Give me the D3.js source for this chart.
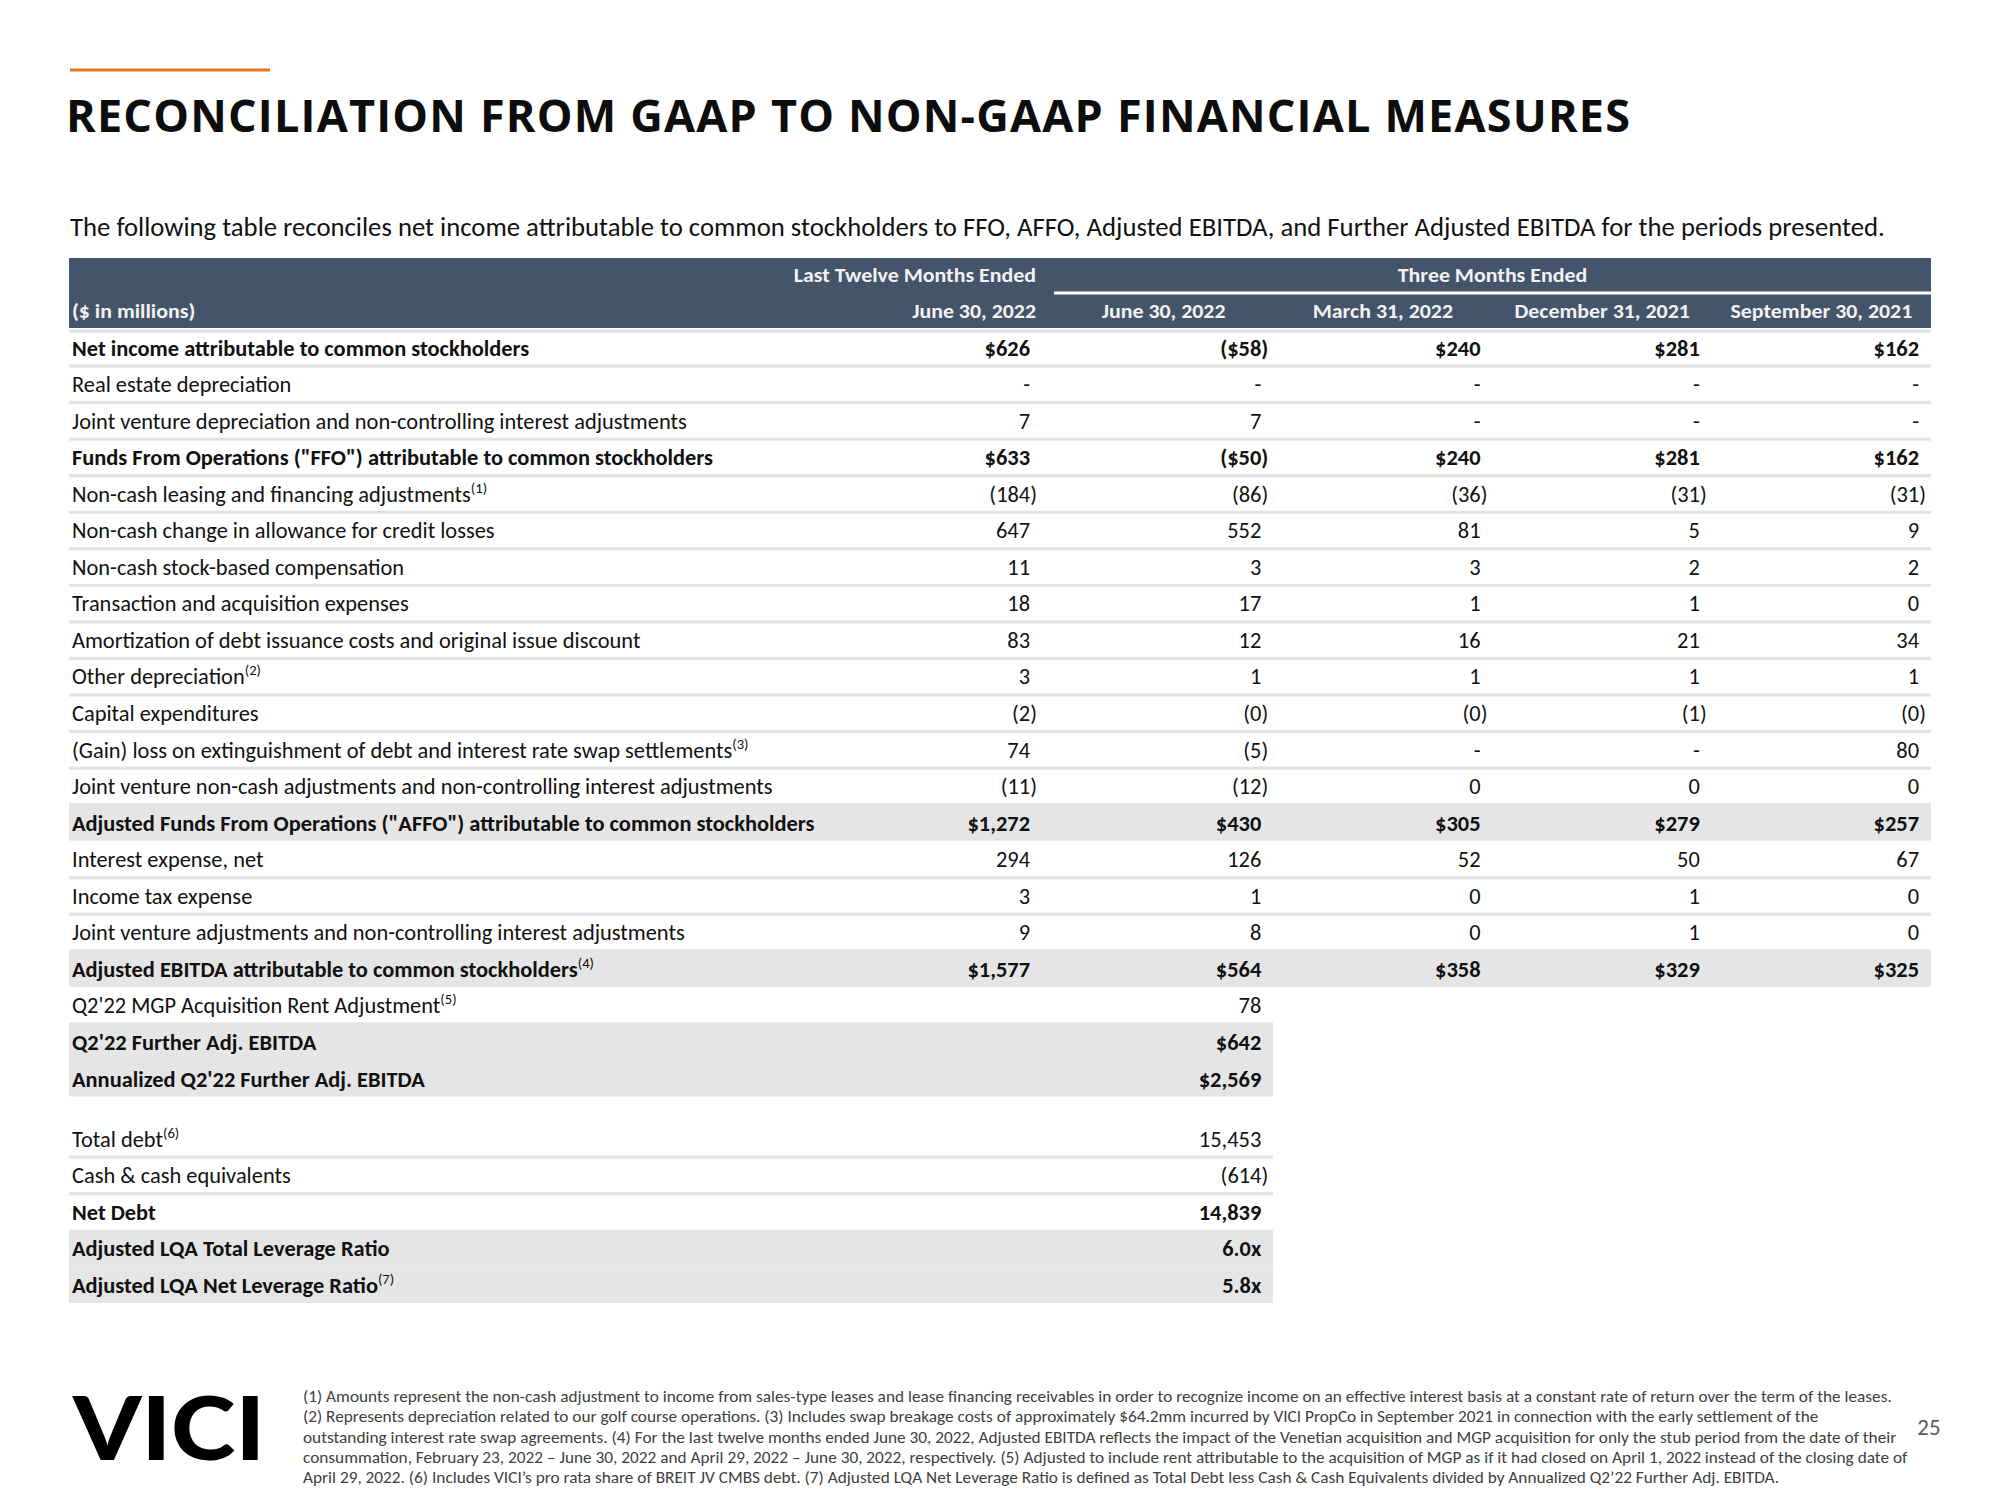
<!DOCTYPE html>
<html>
<head>
<meta charset="utf-8">
<script src="https://cdn.jsdelivr.net/npm/d3@7"></script>
<style>
  html, body { margin: 0; padding: 0; background: #ffffff; }
  svg { display: block; }
</style>
</head>
<body>
<script>
// ---------------- DATA ----------------
const title = "RECONCILIATION FROM GAAP TO NON-GAAP FINANCIAL MEASURES";
const subtitle = "The following table reconciles net income attributable to common stockholders to FFO, AFFO, Adjusted EBITDA, and Further Adjusted EBITDA for the periods presented.";
const unitLabel = "($ in millions)";
const groupHeaders = ["Last Twelve Months Ended", "Three Months Ended"];
const columnHeaders = ["June 30, 2022", "June 30, 2022", "March 31, 2022", "December 31, 2021", "September 30, 2021"];
const columnKeys = ["ltm", "q2_22", "q1_22", "q4_21", "q3_21"];

// Section 1 rows
const labels = [
  "Net income attributable to common stockholders",
  "Real estate depreciation",
  "Joint venture depreciation and non-controlling interest adjustments",
  "Funds From Operations (\"FFO\") attributable to common stockholders",
  "Non-cash leasing and financing adjustments",
  "Non-cash change in allowance for credit losses",
  "Non-cash stock-based compensation",
  "Transaction and acquisition expenses",
  "Amortization of debt issuance costs and original issue discount",
  "Other depreciation",
  "Capital expenditures",
  "(Gain) loss on extinguishment of debt and interest rate swap settlements",
  "Joint venture non-cash adjustments and non-controlling interest adjustments",
  "Adjusted Funds From Operations (\"AFFO\") attributable to common stockholders",
  "Interest expense, net",
  "Income tax expense",
  "Joint venture adjustments and non-controlling interest adjustments",
  "Adjusted EBITDA attributable to common stockholders",
  "Q2'22 MGP Acquisition Rent Adjustment",
  "Q2'22 Further Adj. EBITDA",
  "Annualized Q2'22 Further Adj. EBITDA"
];
const labelNotes = ["", "", "", "", "(1)", "", "", "", "", "(2)", "", "(3)", "", "", "", "", "", "(4)", "(5)", "", ""];
const boldRows = [0, 3, 13, 17, 19, 20];
const dollarRows = [0, 3, 13, 17, 19, 20];
const shadedFullRows = [13, 17];
const shadedShortRows = [19, 20];
// null = dash, undefined = blank
const ltm   = [626, null, 7, 633, -184, 647, 11, 18, 83, 3, -2, 74, -11, 1272, 294, 3, 9, 1577, undefined, undefined, undefined];
const q2_22 = [-58, null, 7, -50, -86, 552, 3, 17, 12, 1, -0, -5, -12, 430, 126, 1, 8, 564, 78, 642, 2569];
const q1_22 = [240, null, null, 240, -36, 81, 3, 1, 16, 1, -0, null, 0, 305, 52, 0, 0, 358, undefined, undefined, undefined];
const q4_21 = [281, null, null, 281, -31, 5, 2, 1, 21, 1, -1, null, 0, 279, 50, 1, 1, 329, undefined, undefined, undefined];
const q3_21 = [162, null, null, 162, -31, 9, 2, 0, 34, 1, -0, 80, 0, 257, 67, 0, 0, 325, undefined, undefined, undefined];

// Section 2 rows (leverage)
const debtLabels = ["Total debt", "Cash & cash equivalents", "Net Debt", "Adjusted LQA Total Leverage Ratio", "Adjusted LQA Net Leverage Ratio"];
const debtNotes = ["(6)", "", "", "", "(7)"];
const debtValues = [15453, -614, 14839, 6.0, 5.8];
const debtTypes = ["num", "num", "num", "x", "x"];
const debtBold = [2, 3, 4];
const debtShaded = [3, 4];

const footnotes = [
  "(1) Amounts represent the non-cash adjustment to income from sales-type leases and lease financing receivables in order to recognize income on an effective interest basis at a constant rate of return over the term of the leases.",
  "(2) Represents depreciation related to our golf course operations. (3) Includes swap breakage costs of approximately $64.2mm incurred by VICI PropCo in September 2021 in connection with the early settlement of the",
  "outstanding interest rate swap agreements. (4) For the last twelve months ended June 30, 2022, Adjusted EBITDA reflects the impact of the Venetian acquisition and MGP acquisition for only the stub period from the date of their",
  "consummation, February 23, 2022 \u2013 June 30, 2022 and April 29, 2022 \u2013 June 30, 2022, respectively. (5) Adjusted to include rent attributable to the acquisition of MGP as if it had closed on April 1, 2022 instead of the closing date of",
  "April 29, 2022. (6) Includes VICI\u2019s pro rata share of BREIT JV CMBS debt. (7) Adjusted LQA Net Leverage Ratio is defined as Total Debt less Cash & Cash Equivalents divided by Annualized Q2\u201922 Further Adj. EBITDA."
];
const logoText = "VICI";
const pageNumber = "25";

// ---------------- STYLE / LAYOUT ----------------
const W = 2000, H = 1500;
const BODY = "Carlito, Calibri, 'Liberation Sans Narrow', 'Liberation Sans', Arial, sans-serif";
const TITLE_FONT = "'Open Sans', 'Noto Sans', sans-serif";
const HEADER_BG = "#44546a";
const SHADE = "#e5e5e5";
const RULE = "#e2e2e2";
const TEXT = "#111111";

const svg = d3.select("body").append("svg").attr("width", W).attr("height", H)
  .style("font-family", BODY);

function measure(str, size, weight, family) {
  const t = svg.append("text").attr("x", -5000).attr("y", -5000)
    .style("font-family", family).style("font-size", size + "px").style("font-weight", weight).text(str);
  const w = t.node().getComputedTextLength();
  t.remove();
  return w;
}

// calibration: horizontal scale so that the body font matches the reference widths
const BODY_SIZE = 21.5;
const kBody = 615 / measure(labels[2], BODY_SIZE, 400, BODY);

function addText(parent, x, y, str, o = {}) {
  const k = o.k == null ? kBody : o.k;
  const t = parent.append("text")
    .attr("transform", `translate(${x},${y}) scale(${k},1)`)
    .attr("text-anchor", o.anchor || "start")
    .style("font-family", o.family || BODY)
    .style("font-size", (o.size || BODY_SIZE) + "px")
    .style("font-weight", o.weight || 400)
    .style("fill", o.fill || TEXT);
  t.append("tspan").text(str);
  if (o.note) {
    t.append("tspan").attr("dy", -9).style("font-size", "14px").style("font-weight", 400).text(o.note);
  }
  return t;
}

// ---- Orange accent + title ----
svg.append("rect").attr("x", 70).attr("y", 68.5).attr("width", 200).attr("height", 3).attr("fill", "#e87722");

const titleNat = measure(title, 45, 700, TITLE_FONT);
const titleLS = (1564 - titleNat) / (title.length - 1);
svg.append("text").attr("x", 66).attr("y", 132)
  .style("font-family", TITLE_FONT).style("font-weight", 700).style("font-size", "45px")
  .style("letter-spacing", titleLS + "px").style("fill", "#0d0d0d").text(title);

// subtitle
const subK = 1815 / measure(subtitle, 27.5, 400, BODY);
addText(svg, 70, 236, subtitle, { size: 27.5, k: subK, fill: "#111" });

// ---- Scales ----
const tableLeft = 69, tableRight = 1931, shortRight = 1273;
const yRows = d3.scaleBand().domain(d3.range(labels.length)).range([329, 329 + 36.55 * labels.length]).paddingInner(0).paddingOuter(0);
const yDebt = d3.scaleBand().domain(d3.range(debtLabels.length)).range([1120, 1303]);
const xQuarter = d3.scaleBand().domain(columnKeys.slice(1)).range([1054, tableRight]);
const colRight = d3.scaleOrdinal().domain(columnKeys)
  .range([1037].concat(columnKeys.slice(1).map(c => xQuarter(c) + xQuarter.bandwidth() - 5)));
const colCenter = c => xQuarter(c) + xQuarter.bandwidth() / 2;
const seriesByKey = { ltm, q2_22, q1_22, q4_21, q3_21 };

// ---- Header ----
svg.append("rect").attr("x", tableLeft).attr("y", 258).attr("width", tableRight - tableLeft).attr("height", 70).attr("fill", HEADER_BG);
svg.append("rect").attr("x", 1054).attr("y", 291.5).attr("width", tableRight - 1054).attr("height", 3).attr("fill", "#ffffff");
svg.append("rect").attr("x", tableLeft).attr("y", 329.5).attr("width", tableRight - tableLeft).attr("height", 3).attr("fill", RULE);

const HDR = { size: 21, weight: 700, fill: "#f2f2f2" };
addText(svg, 1036, 282, groupHeaders[0], { ...HDR, anchor: "end" });
addText(svg, (1054 + tableRight) / 2, 282, groupHeaders[1], { ...HDR, anchor: "middle" });
addText(svg, 72, 318, unitLabel, { ...HDR });
addText(svg, 1036, 318, columnHeaders[0], { ...HDR, anchor: "end" });
columnKeys.slice(1).forEach((c, i) => addText(svg, colCenter(c), 318, columnHeaders[i + 1], { ...HDR, anchor: "middle" }));

// ---- Formatting ----
const fmtInt = d3.format(",");
function fmtValue(v, dollar, type) {
  if (v === null) return { s: "-", neg: false };
  const neg = v < 0 || Object.is(v, -0);
  let s = type === "x" ? d3.format(".1f")(Math.abs(v)) + "x" : fmtInt(Math.abs(v));
  if (dollar) s = "$" + s;
  if (neg) s = "(" + s + ")";
  return { s, neg };
}

// ---- Section 1 rows ----
const gRows = svg.append("g");
labels.forEach((lab, i) => {
  const top = yRows(i), bh = yRows.bandwidth();
  if (shadedFullRows.includes(i)) {
    gRows.append("rect").attr("x", tableLeft).attr("y", top).attr("width", tableRight - tableLeft).attr("height", bh).attr("fill", SHADE);
  } else if (shadedShortRows.includes(i)) {
    gRows.append("rect").attr("x", tableLeft).attr("y", top).attr("width", shortRight - tableLeft).attr("height", bh).attr("fill", SHADE);
  } else {
    const right = i >= 18 ? shortRight : tableRight;
    gRows.append("rect").attr("x", tableLeft).attr("y", top + bh - 1).attr("width", right - tableLeft).attr("height", 3).attr("fill", RULE);
  }
});
labels.forEach((lab, i) => {
  const top = yRows(i);
  const bold = boldRows.includes(i);
  const base = top + 26.5;
  addText(gRows, 72, base, lab, { weight: bold ? 700 : 400, note: labelNotes[i] });
  columnKeys.forEach(c => {
    const v = seriesByKey[c][i];
    if (v === undefined) return;
    const f = fmtValue(v, dollarRows.includes(i), "num");
    const R = colRight(c);
    addText(gRows, f.neg ? R : R - 7, base, f.s, { anchor: "end", weight: bold ? 700 : 400 });
  });
});

// ---- Section 2 rows ----
const gDebt = svg.append("g");
debtLabels.forEach((lab, i) => {
  const top = yDebt(i), bh = yDebt.bandwidth();
  if (debtShaded.includes(i)) {
    gDebt.append("rect").attr("x", tableLeft).attr("y", top).attr("width", shortRight - tableLeft).attr("height", bh).attr("fill", SHADE);
  } else if (i < 2) {
    gDebt.append("rect").attr("x", tableLeft).attr("y", top + bh - 1).attr("width", shortRight - tableLeft).attr("height", 3).attr("fill", RULE);
  }
});
debtLabels.forEach((lab, i) => {
  const top = yDebt(i);
  const bold = debtBold.includes(i);
  const base = top + 26.5;
  addText(gDebt, 72, base, lab, { weight: bold ? 700 : 400, note: debtNotes[i] });
  const f = fmtValue(debtValues[i], false, debtTypes[i]);
  const R = colRight("q2_22");
  addText(gDebt, f.neg ? R : R - 7, base, f.s, { anchor: "end", weight: bold ? 700 : 400 });
});

// ---- Footer ----
const LOGO_FONT = "Lato, 'Open Sans', sans-serif";
const logoK = 192 / measure(logoText, 88, 900, LOGO_FONT);
addText(svg, 73, 1460, logoText, { size: 88, weight: 900, family: LOGO_FONT, k: logoK, fill: "#000" });

const FN_SIZE = 17;
const fnK = 1590 / measure(footnotes[0], FN_SIZE, 400, BODY);
footnotes.forEach((line, i) => {
  addText(svg, 303, 1402 + i * 20.3, line, { size: FN_SIZE, k: fnK, fill: "#404040" });
});
addText(svg, 1929, 1435, pageNumber, { size: 22, anchor: "middle", fill: "#595959" });
</script>
</body>
</html>
